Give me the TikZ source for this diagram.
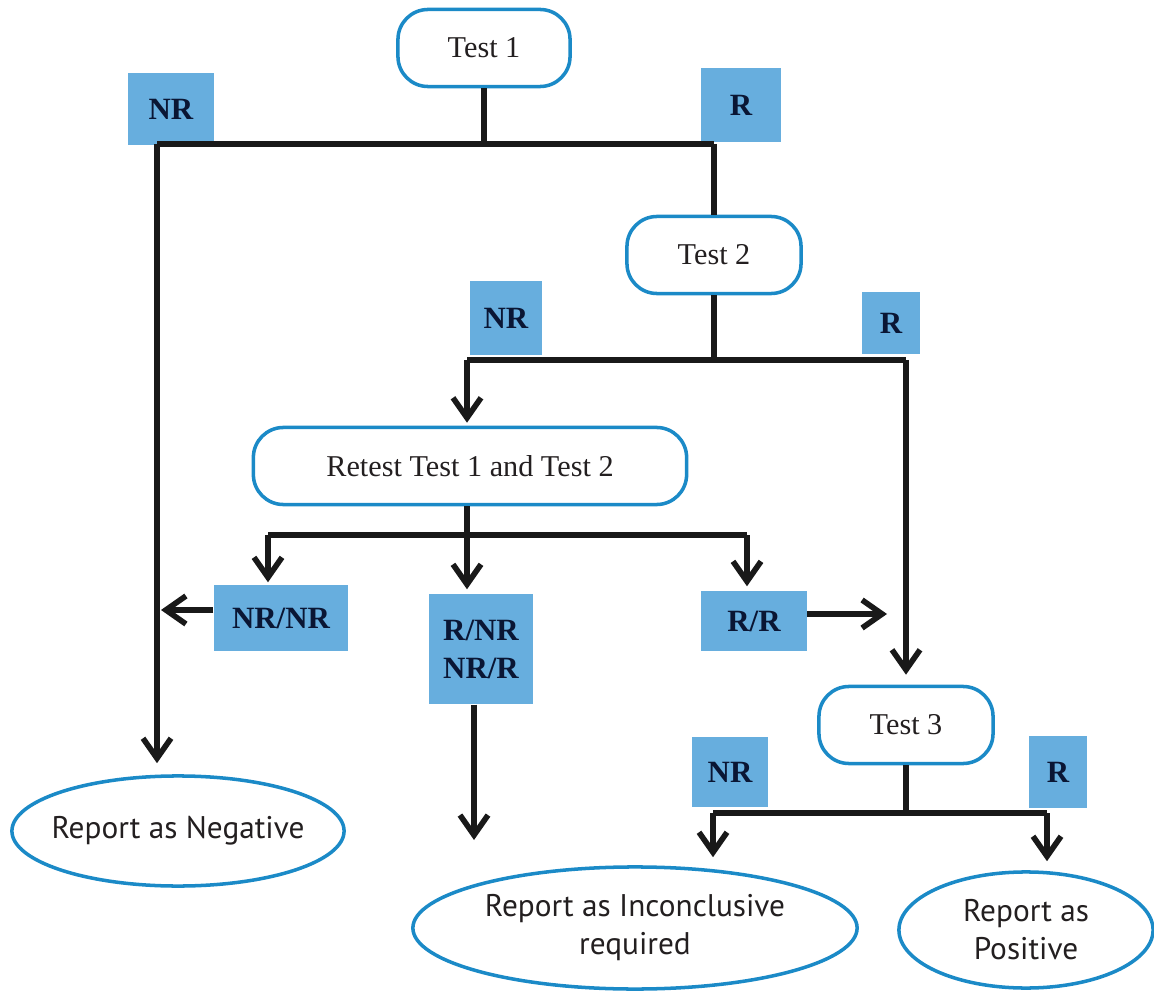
\documentclass[tikz,border=0pt]{standalone}
\usepackage{xcolor}
\usepackage{fontspec}
\setmainfont{Liberation Serif}
\newfontfamily\reportfont{PT Sans}
\usepackage{tikz}
\usetikzlibrary{shapes.geometric, arrows.meta, positioning, calc}

\definecolor{edgeblue}{RGB}{27,138,199}
\definecolor{labelblue}{RGB}{103,174,222}
\definecolor{labeltext}{RGB}{10,22,52}
\definecolor{inktext}{RGB}{35,31,32}

\begin{document}
\begin{tikzpicture}[x=0.01cm, y=-0.01cm,
    testbox/.style={draw=edgeblue, line width=1pt, rounded corners=0.3cm, fill=white, text=inktext,
        font=\fontsize{8.6}{10}\selectfont, minimum height=0.77cm},
    resultbox/.style={fill=labelblue, text=labeltext, font=\fontsize{8.8}{10.8}\selectfont\bfseries,
        inner sep=0pt, align=center},
    report/.style={ellipse, draw=edgeblue, line width=1pt, text=inktext,
        font=\reportfont\fontsize{8.9}{10.8}\selectfont, align=center, inner ysep=0pt, inner xsep=-0.2cm},
    link/.style={line width=1.6pt, black!90},
    flow/.style={link, -{Straight Barb[length=0.2cm, width=0.28cm]}}]
    \useasboundingbox (0,0) rectangle (1154,991);

    % Tests
    \node[testbox, minimum width=1.72cm] (t1) at (484,48) {Test 1};
    \node[testbox, minimum width=1.74cm] (t2) at (714,255) {Test 2};
    \node[testbox, minimum width=4.33cm] (rt) at (470,466) {Retest Test 1 and Test 2};
    \node[testbox, minimum width=1.74cm] (t3) at (906,725) {Test 3};

    % Resultats
    \node[resultbox, minimum width=0.86cm, minimum height=0.72cm] (nr1) at (171,109) {NR};
    \node[resultbox, minimum width=0.80cm, minimum height=0.74cm] (r1) at (741,105) {R};
    \node[resultbox, minimum width=0.72cm, minimum height=0.73cm] (nr2) at (506,318) {NR};
    \node[resultbox, minimum width=0.58cm, minimum height=0.61cm] (r2) at (891,323) {R};
    \node[resultbox, minimum width=1.34cm, minimum height=0.66cm] (nrnr) at (281,618) {NR/NR};
    \node[resultbox, minimum width=1.04cm, minimum height=1.10cm] (mixed) at (481,649) {R/NR\\NR/R};
    \node[resultbox, minimum width=1.05cm, minimum height=0.60cm] (rr) at (754,621) {R/R};
    \node[resultbox, minimum width=0.76cm, minimum height=0.70cm] (nr3) at (730,772) {NR};
    \node[resultbox, minimum width=0.58cm, minimum height=0.71cm] (r3) at (1058,772) {R};

    % Rapports
    \node[report, minimum width=3.32cm, minimum height=1.10cm] (neg) at (178,831) {Report as Negative};
    \node[report, minimum width=4.44cm, minimum height=1.22cm] (inc) at (635,928) {Report as Inconclusive\\required};
    \node[report, minimum width=2.54cm, minimum height=1.16cm] (pos) at (1026,930) {Report as\\Positive};

    % Jonctions
    \coordinate (j1) at (484,144);
    \coordinate (j1l) at (157,144);
    \coordinate (j1r) at (714,144);
    \coordinate (j2) at (714,360);
    \coordinate (j2l) at (467,360);
    \coordinate (j2r) at (906,360);
    \coordinate (j3) at (467,535);
    \coordinate (j3l) at (268,535);
    \coordinate (j3r) at (747,535);
    \coordinate (j4) at (906,813);
    \coordinate (j4l) at (713,813);
    \coordinate (j4r) at (1047,813);
    \coordinate (incend) at (474,840);
    \coordinate (rrend) at (887,614);

    % Test 1
    \draw[link] (t1) -- (j1);
    \draw[link] (j1l) -- (j1r);
    \draw[link] (j1r) -- (t2);
    \draw[flow, shorten >=0.11cm] (j1l) -- (j1l |- neg.north);

    % Test 2
    \draw[link] (t2) -- (j2);
    \draw[link] (j2l) -- (j2r);
    \draw[flow, shorten >=0.03cm] (j2l) -- (j2l |- rt.north);
    \draw[flow, shorten >=0.1cm] (j2r) -- (t3);

    % Retest
    \draw[link] (j3 |- rt.south) -- (j3);
    \draw[link] (j3l) -- (j3r);
    \draw[flow, shorten >=0.02cm] (j3l) -- (j3l |- nrnr.north);
    \draw[flow, shorten >=0.04cm] (j3) -- (j3 |- mixed.north);
    \draw[flow, shorten >=0.04cm] (j3r) -- (j3r |- rr.north);
    \draw[flow, shorten >=0.04cm] ([yshift=0.08cm]nrnr.west) -- ([yshift=0.08cm]nrnr.west -| j1l);
    \draw[flow] (mixed.south -| incend) -- (incend);
    \draw[flow] (rr.east |- rrend) -- (rrend);

    % Test 3
    \draw[link] (t3) -- (j4);
    \draw[link] (j4l) -- (j4r);
    \draw[flow, shorten >=0.08cm] (j4l) -- (j4l |- inc.north);
    \draw[flow, shorten >=0.09cm] (j4r) -- (j4r |- pos.north);
\end{tikzpicture}
\end{document}
